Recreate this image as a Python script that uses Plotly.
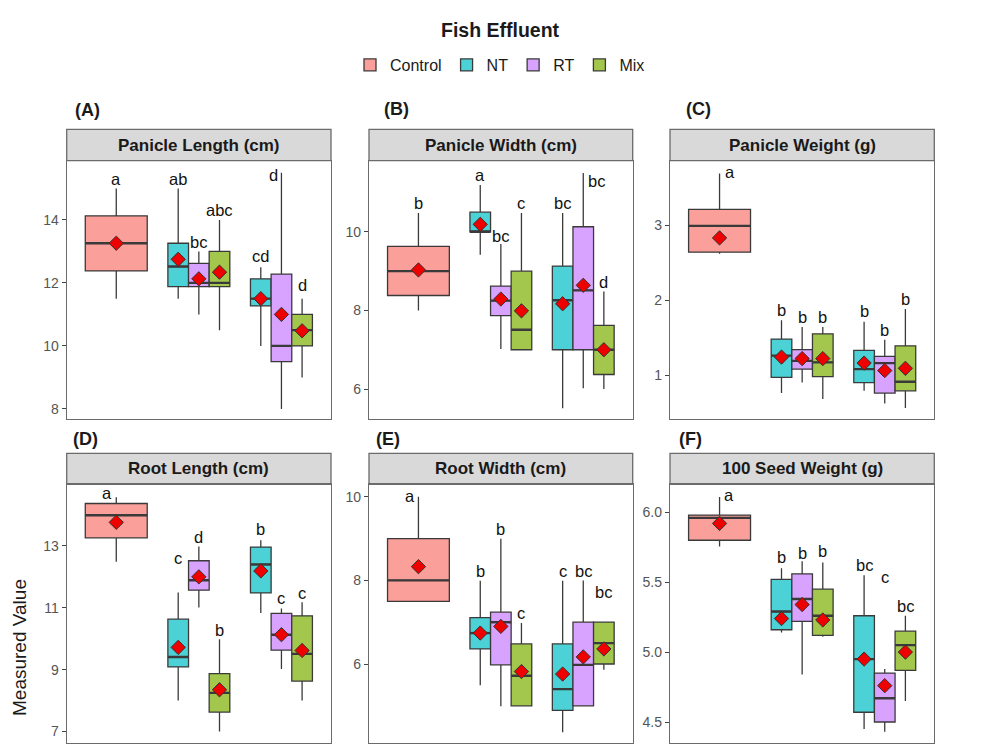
import plotly.graph_objects as go

# ---------------- DATA ----------------
treatments = ["Control", "NT", "RT", "Mix"]
panel_titles = ["Panicle Length (cm)", "Panicle Width (cm)", "Panicle Weight (g)",
                "Root Length (cm)", "Root Width (cm)", "100 Seed Weight (g)"]
panel_tags = ["(A)", "(B)", "(C)", "(D)", "(E)", "(F)"]

# box order: Control, NT(2), RT(2), Mix(2), NT(3), RT(3), Mix(3)
box_treat = ["Control", "NT", "RT", "Mix", "NT", "RT", "Mix"]

# (A) Panicle Length
pl_lower = [11.5, 11.5, 11.0, 10.5, 10.0, 8.0, 9.0]
pl_q1 = [12.38, 11.88, 11.88, 11.88, 11.27, 9.5, 10.0]
pl_med = [13.26, 12.52, 12.0, 12.0, 11.5, 10.0, 10.5]
pl_q3 = [14.13, 13.26, 12.62, 13.0, 12.13, 12.28, 11.0]
pl_upper = [15.0, 15.0, 13.0, 14.0, 12.5, 15.5, 11.5]
pl_mean = [13.26, 12.75, 12.13, 12.34, 11.5, 11.0, 10.48]
pl_letters = ["a", "ab", "bc", "abc", "cd", "d", "d"]
pl_letter_y = [15.29, 15.29, 13.31, 14.30, 12.84, 15.43, 11.94]

# (B) Panicle Width
pw_lower = [8.0, 9.42, 7.02, 7.0, 5.51, 6.02, 6.0]
pw_q1 = [8.38, 10.0, 7.87, 7.0, 7.0, 7.0, 6.37]
pw_med = [9.0, 10.0, 8.25, 7.51, 8.26, 8.51, 7.0]
pw_q3 = [9.63, 10.5, 8.62, 9.0, 9.13, 10.13, 7.62]
pw_upper = [10.48, 11.19, 9.69, 10.48, 10.48, 11.5, 8.48]
pw_mean = [9.03, 10.19, 8.29, 7.99, 8.17, 8.64, 7.0]
pw_letters = ["b", "a", "bc", "c", "bc", "bc", "d"]
pw_letter_y = [10.74, 11.44, 9.89, 10.74, 10.74, 11.30, 8.73]

# (C) Panicle Weight
pwt_lower = [2.62, 0.76, 0.90, 0.68, 0.79, 0.62, 0.56]
pwt_q1 = [2.64, 0.97, 1.08, 0.98, 0.90, 0.76, 0.79]
pwt_med = [2.99, 1.26, 1.19, 1.17, 1.08, 1.16, 0.91]
pwt_q3 = [3.21, 1.48, 1.34, 1.55, 1.33, 1.25, 1.39]
pwt_upper = [3.69, 1.73, 1.64, 1.64, 1.71, 1.47, 1.88]
pwt_mean = [2.83, 1.24, 1.22, 1.22, 1.16, 1.06, 1.09]
pwt_letters = ["a", "b", "b", "b", "b", "b", "b"]
pwt_letter_y = [3.71, 1.87, 1.78, 1.78, 1.86, 1.60, 2.01]

# (D) Root Length
rl_lower = [12.49, 8.0, 11.01, 7.0, 10.83, 9.02, 8.0]
rl_q1 = [13.26, 9.09, 11.57, 7.63, 11.48, 9.63, 8.63]
rl_med = [13.99, 9.41, 11.89, 8.25, 12.40, 10.13, 9.51]
rl_q3 = [14.37, 10.63, 12.52, 8.87, 12.96, 10.82, 10.74]
rl_upper = [14.57, 11.49, 12.98, 9.98, 13.18, 10.98, 11.18]
rl_mean = [13.76, 9.72, 12.0, 8.35, 12.19, 10.13, 9.62]
rl_letters = ["a", "c", "d", "b", "b", "c", "c"]
rl_letter_y = [14.72, 12.61, 13.30, 10.29, 13.54, 11.30, 11.49]

# (E) Root Width
rw_lower = [7.5, 5.49, 4.99, 5.0, 4.37, 5.0, 5.86]
rw_q1 = [7.5, 6.36, 5.98, 5.0, 4.89, 5.0, 6.0]
rw_med = [8.0, 6.74, 7.0, 5.72, 5.40, 5.98, 6.5]
rw_q3 = [9.0, 7.11, 7.24, 6.48, 6.48, 7.0, 7.0]
rw_upper = [10.0, 7.99, 9.0, 6.98, 7.99, 8.0, 7.0]
rw_mean = [8.33, 6.74, 6.90, 5.82, 5.76, 6.17, 6.36]
rw_letters = ["a", "b", "b", "c", "c", "bc", "bc"]
rw_letter_y = [10.02, 8.22, 9.23, 7.22, 8.22, 8.22, 7.72]

# (F) 100 Seed Weight
sw_lower = [5.755, 5.14, 4.84, 5.11, 4.45, 4.43, 4.65]
sw_q1 = [5.80, 5.16, 5.22, 5.12, 4.57, 4.50, 4.87]
sw_med = [5.96, 5.29, 5.38, 5.26, 4.95, 4.67, 5.05]
sw_q3 = [5.98, 5.52, 5.56, 5.45, 5.26, 4.85, 5.15]
sw_upper = [6.11, 5.60, 5.65, 5.64, 5.55, 4.88, 5.26]
sw_mean = [5.92, 5.24, 5.34, 5.23, 4.95, 4.76, 5.00]
sw_letters = ["a", "b", "b", "b", "bc", "c", "bc"]
sw_letter_y = [6.12, 5.68, 5.71, 5.72, 5.62, 5.54, 5.33]

# y tick values per panel
pl_ticks = [8, 10, 12, 14]
pw_ticks = [6, 8, 10]
pwt_ticks = [1, 2, 3]
rl_ticks = [7, 9, 11, 13]
rw_ticks = [6, 8, 10]
sw_ticks = [4.5, 5.0, 5.5, 6.0]

panels = [
    (pl_lower, pl_q1, pl_med, pl_q3, pl_upper, pl_mean, pl_letters, pl_letter_y, pl_ticks),
    (pw_lower, pw_q1, pw_med, pw_q3, pw_upper, pw_mean, pw_letters, pw_letter_y, pw_ticks),
    (pwt_lower, pwt_q1, pwt_med, pwt_q3, pwt_upper, pwt_mean, pwt_letters, pwt_letter_y, pwt_ticks),
    (rl_lower, rl_q1, rl_med, rl_q3, rl_upper, rl_mean, rl_letters, rl_letter_y, rl_ticks),
    (rw_lower, rw_q1, rw_med, rw_q3, rw_upper, rw_mean, rw_letters, rw_letter_y, rw_ticks),
    (sw_lower, sw_q1, sw_med, sw_q3, sw_upper, sw_mean, sw_letters, sw_letter_y, sw_ticks),
]

# ---------------- LAYOUT / STYLE ----------------
W, H = 1000, 750
FONT = "Liberation Sans, Arial, Helvetica, sans-serif"
fills = {"Control": "#FA9F99", "NT": "#4CD2D6", "RT": "#D8A3FF", "Mix": "#A3C64C"}
edge = "#3a3a3a"
frame = "#6b6b6b"

# dodged positions on a 3-slot discrete axis
box_x = [1.0, 1.75, 2.0, 2.25, 2.75, 3.0, 3.25]
box_w = [0.75, 0.25, 0.25, 0.25, 0.25, 0.25, 0.25]
y_ranges = [[7.67, 15.88], [5.23, 11.81], [0.41, 3.86],
            [6.63, 14.99], [4.11, 10.30], [4.35, 6.20]]
letter_xshift = [[0, 0, 0, 0, 0, -8, 0], [0, 0, 0, 0, 0, 13, 0], [10, 0, 0, 0, 0, 0, 0],
                 [-9, 0, 0, 0, 0, 0, 0], [-8, 0, 0, 0, 0, 0, 0], [9, 0, 0, 0, 0, 0, 0]]

col_px = [(66.7, 331.0), (369.0, 632.7), (670.0, 934.3)]
row_px = [(160.7, 419.3), (484.3, 743.0)]
strip_px = [(129.3, 160.7), (453.3, 484.3)]
tag_px = [(73, 110), (382, 109), (684, 109), (71, 439), (374, 439), (677, 439)]


def px(x):
    return x / W


def py(y):
    return 1 - y / H


fig = go.Figure()
shapes = []
annotations = []

for p, (lo, q1, med, q3, up, mean, letters, ly, ticks) in enumerate(panels):
    r, c = divmod(p, 3)
    ax = "" if p == 0 else str(p + 1)
    xref, yref = "x" + ax, "y" + ax

    for t in treatments:
        idx = [i for i, bt in enumerate(box_treat) if bt == t]
        fig.add_trace(go.Box(
            x=[box_x[i] for i in idx],
            q1=[q1[i] for i in idx], median=[med[i] for i in idx], q3=[q3[i] for i in idx],
            lowerfence=[lo[i] for i in idx], upperfence=[up[i] for i in idx],
            width=box_w[idx[0]], whiskerwidth=0,
            fillcolor=fills[t], line=dict(color=edge, width=1.3),
            name=t, legendgroup=t, showlegend=(p == 0),
            xaxis=xref, yaxis=yref, hoverinfo="skip",
        ))

    # thicker median bars (ggplot style)
    mx, my = [], []
    for i in range(len(med)):
        mx += [box_x[i] - box_w[i] / 2, box_x[i] + box_w[i] / 2, None]
        my += [med[i], med[i], None]
    fig.add_trace(go.Scatter(x=mx, y=my, mode="lines", line=dict(color=edge, width=2.4),
                             showlegend=False, hoverinfo="skip", xaxis=xref, yaxis=yref))

    # mean diamonds
    fig.add_trace(go.Scatter(
        x=box_x, y=mean, mode="markers",
        marker=dict(symbol="diamond", size=11, color="#EE0000", line=dict(color="#333333", width=1)),
        showlegend=False, hoverinfo="skip", xaxis=xref, yaxis=yref))

    # significance letters
    for i, (lt, yv) in enumerate(zip(letters, ly)):
        annotations.append(dict(x=box_x[i], y=yv, xref=xref, yref=yref, text=lt, showarrow=False,
                                xanchor="center", yanchor="middle",
                                xshift=letter_xshift[p][i],
                                font=dict(family=FONT, size=16.5, color="#111111")))

    x0, x1 = col_px[c]
    y0, y1 = row_px[r]
    fig.layout["xaxis" + ax] = dict(
        domain=[px(x0), px(x1)], range=[0.4, 3.6], anchor=yref,
        showticklabels=False, ticks="", showgrid=False, zeroline=False,
        showline=True, mirror=True, linecolor=frame, linewidth=1.3)
    fig.layout["yaxis" + ax] = dict(
        domain=[py(y1), py(y0)], range=y_ranges[p], anchor=xref,
        tickvals=ticks, ticktext=[("%.1f" % v) if p == 5 else ("%g" % v) for v in ticks],
        ticks="outside", ticklen=4, tickwidth=1.1, tickcolor="#444444",
        tickfont=dict(family=FONT, size=14, color="#555555"),
        showgrid=False, zeroline=False,
        showline=True, mirror=True, linecolor=frame, linewidth=1.3)

    # strip
    s0, s1 = strip_px[r]
    shapes.append(dict(type="rect", xref="paper", yref="paper",
                       x0=px(x0), x1=px(x1), y0=py(s1), y1=py(s0),
                       fillcolor="#D9D9D9", line=dict(color=frame, width=1.3), layer="below"))
    annotations.append(dict(x=px((x0 + x1) / 2), y=py((s0 + s1) / 2), xref="paper", yref="paper",
                            xanchor="center", yanchor="middle",
                            text="<b>%s</b>" % panel_titles[p], showarrow=False,
                            font=dict(family=FONT, size=17, color="#1a1a1a")))
    # panel tag
    tx, ty = tag_px[p]
    annotations.append(dict(x=px(tx), y=py(ty), xref="paper", yref="paper",
                            xanchor="left", yanchor="middle",
                            text="<b>%s</b>" % panel_tags[p], showarrow=False,
                            font=dict(family=FONT, size=18, color="#1a1a1a")))

annotations.append(dict(x=px(19), y=py(648), xref="paper", yref="paper", text="Measured Value",
                        xanchor="center", yanchor="middle",
                        textangle=-90, showarrow=False,
                        font=dict(family=FONT, size=19, color="#1a1a1a")))
annotations.append(dict(x=0.5, y=py(30), xref="paper", yref="paper", text="<b>Fish Effluent</b>",
                        xanchor="center", yanchor="middle", showarrow=False,
                        font=dict(family=FONT, size=19.5, color="#1a1a1a")))

fig.update_layout(
    width=W, height=H, margin=dict(l=0, r=0, t=0, b=0),
    paper_bgcolor="white", plot_bgcolor="white",
    font=dict(family=FONT),
    boxmode="overlay",
    shapes=shapes, annotations=annotations,
    legend=dict(orientation="h", x=0.5, xanchor="center", y=py(65), yanchor="middle",
                font=dict(family=FONT, size=16, color="#1a1a1a"),
                itemwidth=30, bgcolor="rgba(0,0,0,0)"),
)

fig.write_html("out.html")
